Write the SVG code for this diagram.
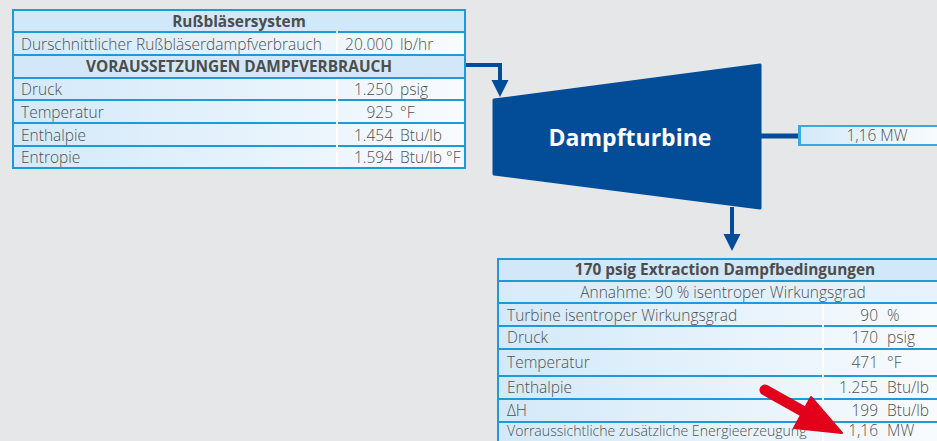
<svg xmlns="http://www.w3.org/2000/svg" width="937" height="441" viewBox="0 0 937 441">
  <defs>
    <linearGradient id="rowGrad1" gradientUnits="userSpaceOnUse" x1="13" y1="0" x2="465" y2="0">
      <stop offset="0" stop-color="#d3e9f9"/>
      <stop offset="1" stop-color="#f8fbfe"/>
    </linearGradient>
    <linearGradient id="rowGrad2" gradientUnits="userSpaceOnUse" x1="498" y1="0" x2="937" y2="0">
      <stop offset="0" stop-color="#d3e9f9"/>
      <stop offset="1" stop-color="#f8fbfe"/>
    </linearGradient>
    <linearGradient id="boxGrad" gradientUnits="userSpaceOnUse" x1="798" y1="0" x2="937" y2="0">
      <stop offset="0" stop-color="#d3e9f9"/>
      <stop offset="1" stop-color="#f8fbfe"/>
    </linearGradient>
    <marker id="arrowBlue" markerUnits="userSpaceOnUse" markerWidth="18" markerHeight="18" refX="0" refY="8.5" orient="auto" viewBox="0 0 18 17">
      <path d="M0,0 L17,8.5 L0,17 Z" fill="#034c97"/>
    </marker>
    <style>
      .bg { fill: #e6e7e9; }
      .hdr { fill: #d2e8f8; }
      .grid { stroke: #1e9ad6; stroke-width: 2; fill: none; }
      .coldiv { stroke: #ffffff; stroke-width: 2; }
      .t { font-family: "Open Sans", "Liberation Sans", sans-serif; font-size: 15.5px; font-weight: 300; fill: #505050; }
      .s { font-size: 14.1px; }
      .b { font-family: "Open Sans", "Liberation Sans", sans-serif; font-size: 15.4px; font-weight: bold; fill: #4d4d4d; }
      .c { text-anchor: middle; }
      .e { text-anchor: end; }
      .pipe { stroke: #034c97; stroke-width: 4; fill: none; }
    </style>
  </defs>

  <rect class="bg" x="0" y="0" width="937" height="441"/>

  <g id="connectors">
    <polyline class="pipe" points="465,65 500,65 500,80" marker-end="url(#arrowBlue)"/>
    <line class="pipe" x1="732" y1="207" x2="732" y2="234" marker-end="url(#arrowBlue)"/>
    <line x1="761" y1="136" x2="799" y2="136" stroke="#034c97" stroke-width="5"/>
  </g>

  <g id="sootblower-table">
    <rect x="13" y="10" width="452" height="158" fill="url(#rowGrad1)"/>
    <rect class="hdr" x="13" y="10" width="452" height="22"/>
    <rect class="hdr" x="13" y="55" width="452" height="23"/>
    <line class="coldiv" x1="337" y1="32" x2="337" y2="55"/>
    <line class="coldiv" x1="337" y1="78" x2="337" y2="168"/>
    <g class="grid">
      <line x1="13" y1="32" x2="336" y2="32"/><line x1="338" y1="32" x2="465" y2="32"/>
      <line x1="13" y1="55" x2="465" y2="55"/>
      <line x1="13" y1="78" x2="465" y2="78"/>
      <line x1="13" y1="100" x2="336" y2="100"/><line x1="338" y1="100" x2="465" y2="100"/>
      <line x1="13" y1="123" x2="336" y2="123"/><line x1="338" y1="123" x2="465" y2="123"/>
      <line x1="13" y1="146" x2="336" y2="146"/><line x1="338" y1="146" x2="465" y2="146"/>
      <rect x="13" y="10" width="452" height="158"/>
    </g>
    <text class="b c" x="239" y="27">Rußbläsersystem</text>
    <text class="t" x="21" y="50">Durschnittlicher Rußbläserdampfverbrauch</text>
    <text class="t e" x="393" y="50">20.000</text>
    <text class="t" x="400" y="50">lb/hr</text>
    <text class="b c" x="239" y="72">VORAUSSETZUNGEN DAMPFVERBRAUCH</text>
    <text class="t" x="21" y="95">Druck</text>
    <text class="t e" x="393" y="95">1.250</text>
    <text class="t" x="400" y="95">psig</text>
    <text class="t" x="21" y="118">Temperatur</text>
    <text class="t e" x="393" y="118">925</text>
    <text class="t" x="400" y="118">°F</text>
    <text class="t" x="21" y="141">Enthalpie</text>
    <text class="t e" x="393" y="141">1.454</text>
    <text class="t" x="400" y="141">Btu/lb</text>
    <text class="t" x="21" y="163">Entropie</text>
    <text class="t e" x="393" y="163">1.594</text>
    <text class="t" x="400" y="163">Btu/lb °F</text>
  </g>

  <g id="turbine">
    <path d="M494,100 L760,65 L760,208 L494,174 Z" fill="#034c97" stroke="#034c97" stroke-width="3" stroke-linejoin="round"/>
    <text x="630" y="146" text-anchor="middle" font-family="'Open Sans', 'Liberation Sans', sans-serif" font-size="23" font-weight="bold" fill="#ffffff">Dampfturbine</text>
  </g>

  <g id="power-output">
    <rect x="799" y="126" width="150" height="19" fill="url(#boxGrad)" stroke="#3aa8e3" stroke-width="2"/>
    <line x1="799.5" y1="125" x2="799.5" y2="146" stroke="#3aa8e3" stroke-width="3"/>
    <text class="t c" x="877" y="141">1,16  MW</text>
  </g>

  <g id="extraction-table">
    <rect x="498" y="259" width="450" height="200" fill="url(#rowGrad2)"/>
    <rect class="hdr" x="498" y="259" width="450" height="22"/>
    <rect x="498" y="281" width="450" height="22" fill="#dcedfa" opacity="0.6"/>
    <line class="coldiv" x1="823" y1="303" x2="823" y2="441"/>
    <g class="grid">
      <line x1="498" y1="281" x2="937" y2="281"/>
      <line x1="498" y1="303" x2="937" y2="303"/>
      <line x1="498" y1="326" x2="822" y2="326"/><line x1="824" y1="326" x2="937" y2="326"/>
      <line x1="498" y1="349" x2="822" y2="349"/><line x1="824" y1="349" x2="937" y2="349"/>
      <line x1="498" y1="376" x2="822" y2="376"/><line x1="824" y1="376" x2="937" y2="376"/>
      <line x1="498" y1="399" x2="822" y2="399"/><line x1="824" y1="399" x2="937" y2="399"/>
      <line x1="498" y1="422" x2="822" y2="422"/><line x1="824" y1="422" x2="937" y2="422"/>
      <rect x="498" y="259" width="460" height="200"/>
    </g>
    <text class="b c" x="725" y="275">170 psig Extraction Dampfbedingungen</text>
    <text class="t c" x="723" y="298">Annahme: 90 % isentroper Wirkungsgrad</text>
    <text class="t" x="507" y="321">Turbine isentroper Wirkungsgrad</text>
    <text class="t e" x="878" y="321">90</text>
    <text class="t" x="887" y="321">%</text>
    <text class="t" x="507" y="343">Druck</text>
    <text class="t e" x="878" y="343">170</text>
    <text class="t" x="887" y="343">psig</text>
    <text class="t" x="507" y="368">Temperatur</text>
    <text class="t e" x="878" y="368">471</text>
    <text class="t" x="887" y="368">°F</text>
    <text class="t" x="507" y="393">Enthalpie</text>
    <text class="t e" x="878" y="393">1.255</text>
    <text class="t" x="887" y="393">Btu/lb</text>
    <text class="t" x="507" y="416">ΔH</text>
    <text class="t e" x="878" y="416">199</text>
    <text class="t" x="887" y="416">Btu/lb</text>
    <text class="t s" x="507" y="436">Vorraussichtliche zusätzliche Energieerzeugung</text>
    <text class="t e" x="878" y="436">1,16</text>
    <text class="t" x="887" y="436">MW</text>
  </g>

  <g id="highlight-arrow">
    <line x1="765" y1="390" x2="806" y2="413" stroke="#e2001a" stroke-width="11" stroke-linecap="round"/>
    <path d="M842,433 L811,397 L794,428 Z" fill="#e2001a" stroke="#e2001a" stroke-width="2" stroke-linejoin="round"/>
  </g>
</svg>
